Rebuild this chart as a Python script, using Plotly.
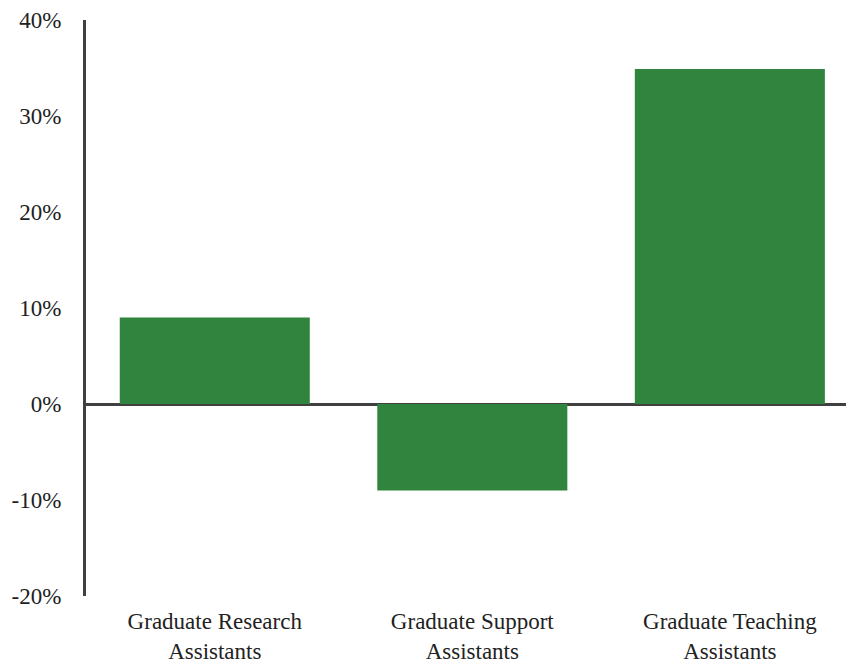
import plotly.graph_objects as go

categories = ["Graduate Research<br>Assistants", "Graduate Support<br>Assistants", "Graduate Teaching<br>Assistants"]
values = [0.09, -0.09, 0.349]
tick_vals = [-0.2, -0.1, 0.0, 0.1, 0.2, 0.3, 0.4]
tick_text = ["-20%", "-10%", "0%", "10%", "20%", "30%", "40%"]

fig = go.Figure(go.Bar(
    x=list(range(len(categories))), y=values,
    marker=dict(color="#31843E", line=dict(width=0)),
    width=0.738,
))

font = dict(family="Liberation Serif, Times New Roman, serif", size=23, color="#222222")

fig.update_layout(
    width=846, height=663,
    margin=dict(l=86, r=0, t=20, b=67),
    paper_bgcolor="white", plot_bgcolor="white",
    showlegend=False,
    font=font,
    bargap=0.26,
    xaxis=dict(
        range=[-0.5, 2.451],
        tickmode="array", tickvals=list(range(len(categories))), ticktext=categories,
        showgrid=False, zeroline=False, showline=False, ticks="",
        tickfont=font, ticklabelstandoff=9,
    ),
    yaxis=dict(
        range=[-0.2, 0.4],
        tickmode="array", tickvals=tick_vals, ticktext=tick_text,
        showgrid=False, zeroline=True, zerolinecolor="#404040", zerolinewidth=3,
        showline=True, linecolor="#404040", linewidth=3, ticks="",
        tickfont=font, ticklabelstandoff=17,
    ),
)

fig.write_html(
    "out.html",
    config={"displayModeBar": False},
    post_script="document.body.style.margin='0';document.body.style.overflow='hidden';",
)
